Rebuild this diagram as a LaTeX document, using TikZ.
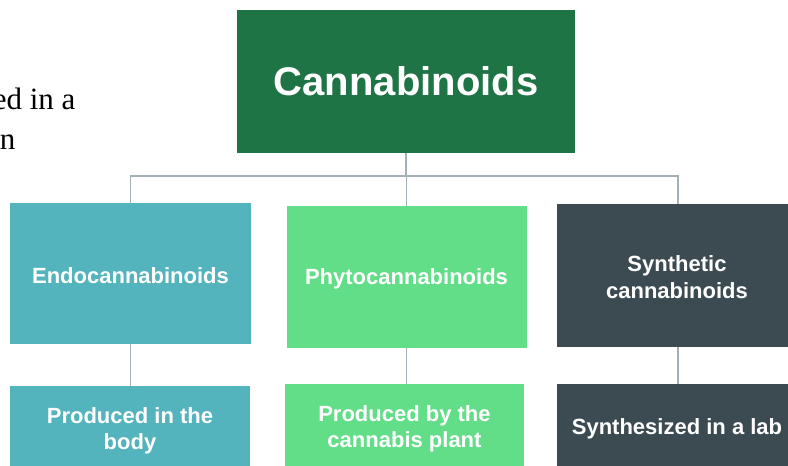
\documentclass[tikz,border=0pt]{standalone}
\usepackage{fontspec}
\setsansfont{Liberation Sans}
\newfontfamily\pagefont{Liberation Serif}
\usepackage{xcolor}
\usetikzlibrary{positioning}
\definecolor{RootGreen}{HTML}{1F7445}
\definecolor{EndoTeal}{HTML}{54B4BD}
\definecolor{PhytoGreen}{HTML}{62DD88}
\definecolor{SynthSlate}{HTML}{3C4B52}
\definecolor{LinkGrey}{HTML}{A3B0B6}

\tikzset{
  box/.style={inner sep=0pt,align=center,text=white,
    font=\sffamily\bfseries\fontsize{22}{26.5}\selectfont},
  link/.style={draw=LinkGrey,line width=1.4pt}
}

\begin{document}
\begin{tikzpicture}[x=1pt,y=-1pt]
    \useasboundingbox (0,0) rectangle (788,466);
    \clip (0,0) rectangle (788,466);

    \node[anchor=base east,font=\pagefont\fontsize{31}{40}\selectfont] (lineA) at (79,109) {ed in a};
    \node[anchor=base east,font=\pagefont\fontsize{31}{40}\selectfont] (lineB) at (19,149) {an};

    \node[box,fill=RootGreen,minimum width=338pt,minimum height=143pt,
      font=\sffamily\bfseries\fontsize{40}{48}\selectfont] (root) at (406,81.5) {Cannabinoids};

    \node[box,fill=EndoTeal,minimum width=241pt,minimum height=141pt] (endo) at (130.5,273.5) {};
    \node[box,fill=PhytoGreen,minimum width=240pt,minimum height=142pt] (phyto) at (406.5,277) {};
    \node[box,fill=SynthSlate,minimum width=242pt,minimum height=143pt] (synth) at (678,275.5) {};
    \node[box] (endoL) at (130.5,275.5) {Endocannabinoids};
    \node[box] (phytoL) at (406.5,279) {Phytocannabinoids};
    \node[box] (synthL) at (677,277) {Synthetic\\cannabinoids};

    \node[box,fill=EndoTeal,minimum width=240pt,minimum height=110pt,anchor=north] (endoB) at (130,386) {};
    \node[box,fill=PhytoGreen,minimum width=239pt,minimum height=110pt,anchor=north] (phytoB) at (404.5,384) {};
    \node[box,fill=SynthSlate,minimum width=242pt,minimum height=110pt,anchor=north] (synthB) at (678,384) {};
    \node[box] (endoT) at (130,431) {Produced in the\\body};
    \node[box] (phytoT) at (404.5,429) {Produced by the\\cannabis plant};
    \node[box] (synthT) at (677,429) {Synthesized in a lab};

    \coordinate (bus) at (406,176);
    \draw[link] (root.south) -- (bus);
    \draw[link] (bus) -| (endo.north);
    \draw[link] (bus) -| (phyto.north);
    \draw[link] (bus) -| (synth.north);

    \draw[link] (endo.south) -- (endo.south |- endoB.north);
    \draw[link] (phyto.south) -- (phyto.south |- phytoB.north);
    \draw[link] (synth.south) -- (synthB.north);
\end{tikzpicture}
\end{document}
